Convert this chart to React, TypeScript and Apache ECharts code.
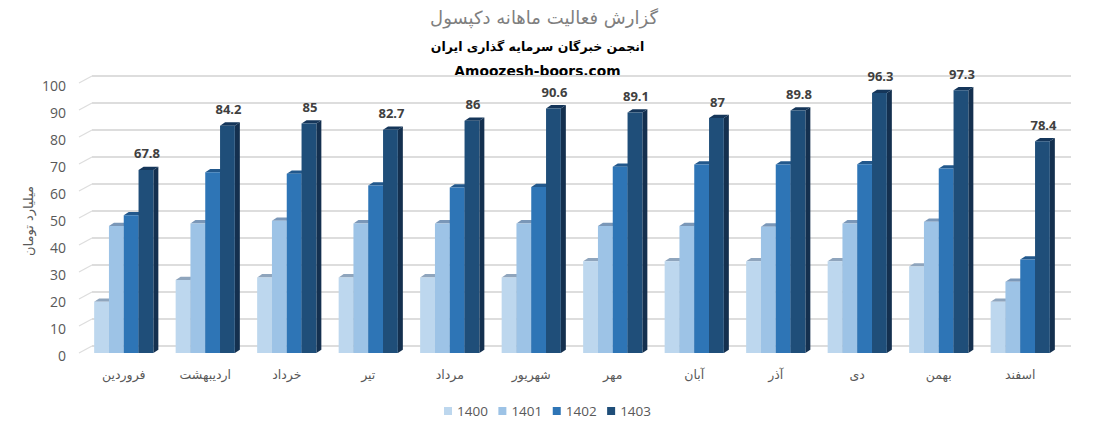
import React, { useEffect, useRef } from "react";
import * as echarts from "echarts";

const title = "گزارش فعالیت ماهانه دکپسول";
const subtitle = "انجمن خبرگان سرمایه گذاری ایران";
const site = "Amoozesh-boors.com";
const yName = "میلیارد تومان";
const categories = ["فروردین", "اردیبهشت", "خرداد", "تیر", "مرداد", "شهریور", "مهر", "آبان", "آذر", "دی", "بهمن", "اسفند"];
const years = ["1400", "1401", "1402", "1403"];
const v1400 = [19, 27, 28, 28, 28, 28, 34, 34, 34, 34, 32, 19];
const v1401 = [47, 48, 49, 48, 48, 48, 47, 47, 46.8, 48, 48.6, 26.4];
const v1402 = [51, 66.9, 66.4, 62, 61.3, 61.5, 69, 69.8, 69.8, 69.9, 68.3, 34.6];
const v1403 = [67.8, 84.2, 85, 82.7, 86, 90.6, 89.1, 87, 89.8, 96.3, 97.3, 78.4];
const seriesValues = [v1400, v1401, v1402, v1403];
const faceColors = ["#BDD7EE", "#9DC3E6", "#2E75B6", "#1F4E79"];
const topColors = ["#8FA5BD", "#7A97B8", "#22588C", "#15365A"];
const sideColors = ["#8DA3BA", "#7793B2", "#1F5284", "#14304F"];
const gridTicks = [0, 10, 20, 30, 40, 50, 60, 70, 80, 90, 100];

const GRID_LEFT = 83;
const GRID_WIDTH = 978;
const GRID_TOP = 83;
const GRID_HEIGHT = 270;
const LABEL_SHIFT = 2.7;
const BAR_W = 14.8;
const DX = 5;
const DY = 3.3;
const WALL_DX = 13;
const WALL_DY = 7;

function gridItem(params: any, api: any) {
  const v = api.value(0);
  const y = api.coord([0, v])[1];
  const left = params.coordSys.x - 4;
  const right = left + 992;
  const st = { stroke: "#DDDDDD", lineWidth: 2 };
  return {
    type: "group",
    children: [
      { type: "line", shape: { x1: left, y1: y, x2: left + WALL_DX, y2: y - WALL_DY }, style: { stroke: "#DDDDDD", lineWidth: 1.2 } },
      { type: "line", shape: { x1: left + WALL_DX, y1: y - WALL_DY, x2: right, y2: y - WALL_DY }, style: st },
    ],
  };
}

function barItem(seriesIndex: number, showLabel: boolean) {
  return (_params: any, api: any) => {
    const p = api.coord([api.value(0), api.value(1)]);
    const base = api.coord([api.value(0), 0])[1];
    const x = p[0] + (seriesIndex - 2) * BAR_W;
    const y = p[1];
    const w = BAR_W;
    const children: any[] = [
      {
        type: "polygon",
        shape: { points: [[x + w, y], [x + w + DX, y - DY], [x + w + DX, base - DY], [x + w, base]] },
        style: { fill: sideColors[seriesIndex] },
      },
      {
        type: "polygon",
        shape: { points: [[x, y], [x + DX, y - DY], [x + w + DX, y - DY], [x + w, y]] },
        style: { fill: topColors[seriesIndex] },
      },
      {
        type: "rect",
        shape: { x, y, width: w, height: base - y },
        style: { fill: faceColors[seriesIndex] },
      },
    ];
    if (showLabel) {
      children.push({
        type: "text",
        style: {
          x: x + w / 2 + 1,
          y: y - 16.5,
          text: String(api.value(1)),
          fill: "#404040",
          font: "bold 13px 'Noto Sans'",
          align: "center",
          verticalAlign: "middle",
        },
      });
    }
    return { type: "group", children };
  };
}

export default function App() {
  const ref = useRef<HTMLDivElement>(null);
  useEffect(() => {
    const chart = echarts.init(ref.current!, undefined, { renderer: "svg" });
    chart.setOption({
      animation: false,
      backgroundColor: "#ffffff",
      grid: [
        { left: GRID_LEFT, width: GRID_WIDTH, top: GRID_TOP, height: GRID_HEIGHT },
        { left: GRID_LEFT, width: GRID_WIDTH, top: GRID_TOP + LABEL_SHIFT, height: GRID_HEIGHT },
      ],
      xAxis: [
        {
          type: "category",
          data: categories,
          axisLine: { show: false },
          axisTick: { show: false },
          axisLabel: { color: "#595959", fontSize: 12.5, fontFamily: "'DejaVu Sans'", margin: 15 },
        },
        { type: "category", gridIndex: 1, data: categories, show: false },
      ],
      yAxis: [
        {
          type: "value",
          min: 0,
          max: 100,
          interval: 10,
          splitLine: { show: false },
          axisLine: { show: false },
          axisTick: { show: false },
          axisLabel: { show: false },
        },
        {
          type: "value",
          gridIndex: 1,
          min: 0,
          max: 100,
          interval: 10,
          splitLine: { show: false },
          axisLine: { show: false },
          axisTick: { show: false },
          axisLabel: { color: "#595959", fontSize: 14, fontFamily: "'Open Sans'", margin: 17 },
        },
      ],
      legend: {
        data: years,
        top: 404,
        left: 444,
        icon: "rect",
        itemWidth: 8,
        itemHeight: 8,
        itemGap: 10.5,
        padding: 0,
        textStyle: { color: "#595959", fontSize: 13.5, fontFamily: "'Open Sans'" },
      },
      graphic: [
        {
          type: "text",
          x: 544,
          y: 17,
          style: { text: title, fill: "#7F7F7F", font: "18px 'DejaVu Sans'", align: "center", verticalAlign: "middle" },
        },
        {
          type: "text",
          x: 537.5,
          y: 46,
          style: { text: subtitle, fill: "#000000", font: "bold 12.5px 'DejaVu Sans'", align: "center", verticalAlign: "middle" },
        },
        {
          type: "text",
          x: 537.5,
          y: 71,
          style: { text: site, fill: "#000000", font: "bold 13.8px 'DejaVu Sans'", align: "center", verticalAlign: "middle" },
        },
        {
          type: "text",
          x: 28,
          y: 221,
          rotation: Math.PI / 2,
          style: { text: yName, fill: "#595959", font: "13px 'DejaVu Sans'", align: "center", verticalAlign: "middle" },
        },
      ],
      series: [
        {
          type: "custom",
          name: "grid",
          data: gridTicks.map((t) => [t]),
          encode: { y: 0 },
          renderItem: gridItem,
          silent: true,
          z: 1,
        },
        ...years.map((name, i) => ({
          type: "custom",
          name,
          data: seriesValues[i].map((v, j) => [j, v]),
          encode: { x: 0, y: 1 },
          itemStyle: { color: faceColors[i] },
          renderItem: barItem(i, i === 3),
          z: 2 + i,
        })),
      ],
    });
    return () => chart.dispose();
  }, []);
  return <div ref={ref} style={{ position: "fixed", left: 0, top: 0, width: 1100, height: 432 }} />;
}
